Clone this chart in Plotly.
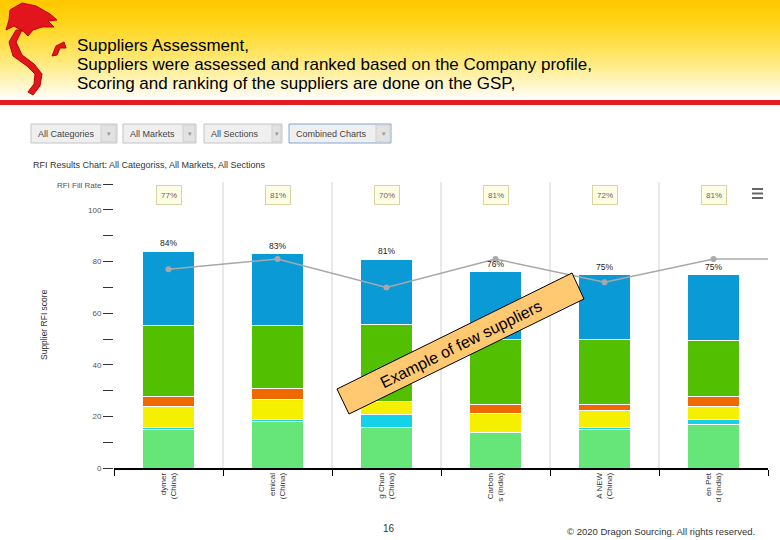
import plotly.graph_objects as go

# ---------------- data ----------------
suppliers = ["dymer<br>(China)", "emical<br>(China)", "g Chun<br>(China)",
             "Carbon<br>s (India)", "A NEW<br>(China)", "en Pet<br>d (India)"]
fill_rate = [77, 81, 70, 81, 72, 81]
score_light_green = [15.0, 17.9, 15.8, 13.8, 15.0, 16.9]
score_cyan = [0.6, 0.8, 5.1, 0.0, 0.6, 1.8]
score_yellow = [8.2, 8.0, 5.0, 7.2, 6.5, 5.1]
score_orange = [4.1, 4.2, 0.0, 3.8, 2.7, 4.1]
score_green = [27.5, 24.5, 29.9, 25.2, 25.1, 21.7]
score_blue = [28.6, 27.6, 25.2, 26.0, 25.1, 25.4]
ytick_vals = [0, 10, 20, 30, 40, 50, 60, 70, 80, 90, 100, 109.7]
ytick_text = ["0", "", "20", "", "40", "", "60", "", "80", "", "100", "RFI Fill Rate"]
filters = ["All Categories", "All Markets", "All Sections", "Combined Charts"]
header_lines = ["Suppliers Assessment,",
                "Suppliers were assessed and ranked based on the Company profile,",
                "Scoring and ranking of the suppliers are done on the GSP,"]

series = [
    ("Section 1", score_light_green, "#66e678"),
    ("Section 2", score_cyan, "#14d2ea"),
    ("Section 3", score_yellow, "#f4f000"),
    ("Section 4", score_orange, "#f06800"),
    ("Section 5", score_green, "#52c000"),
    ("Section 6", score_blue, "#0a9ad6"),
]
totals = [sum(v) for v in zip(*[s[1] for s in series])]

# ---------------- geometry helpers ----------------
W, H = 780, 540
L, R, T, B = 114, 12, 182, 72
FONT = "Liberation Sans, Arial, sans-serif"


def px(x):
    return (x - L) / (W - L - R)


def py(y):
    return (H - B - y) / (H - T - B)


fig = go.Figure()
for name, vals, col in series:
    fig.add_trace(go.Bar(x=suppliers, y=vals, name=name, width=0.48,
                         marker=dict(color=col, line=dict(color="white", width=1))))
fig.add_trace(go.Scatter(x=suppliers, y=fill_rate, mode="lines+markers", name="RFI Fill Rate",
                         line=dict(color="#a8a8a8", width=1.5),
                         marker=dict(color="#a8a8a8", size=6)))

shapes = []
# header gradient
N = 50
for i in range(N):
    t = (i + 0.5) / N
    g = int(200 + (255 - 200) * t)
    b = int(255 * t ** 1.5)
    shapes.append(dict(type="rect", xref="paper", yref="paper", layer="below",
                       x0=px(0), x1=px(W), y0=py(i * 2), y1=py(i * 2 + 2.3),
                       fillcolor=f"rgb(255,{g},{b})", line=dict(width=0)))
# red rule
shapes.append(dict(type="rect", xref="paper", yref="paper", x0=px(0), x1=px(W),
                   y0=py(100), y1=py(105), fillcolor="#e31b23", line=dict(width=0)))


def path(points, close=True):
    s = "M " + " L ".join(f"{px(x):.5f},{py(y):.5f}" for x, y in points)
    return s + (" Z" if close else "")


# crude dragon logo
shapes.append(dict(type="path", xref="paper", yref="paper",
                   path=path([(10, 10), (22, 3), (36, 6), (50, 14), (57, 20), (48, 21), (54, 27),
                              (42, 27), (33, 30), (28, 36), (24, 32), (14, 26), (6, 30), (9, 20)]),
                   fillcolor="#e2141c", line=dict(color="#c00000", width=1)))
shapes.append(dict(type="path", xref="paper", yref="paper",
                   path=path([(22, 30), (16, 42), (22, 55), (34, 64), (42, 74), (40, 86), (33, 95),
                              (28, 92), (34, 84), (35, 74), (27, 66), (13, 56), (9, 42), (16, 30)]),
                   fillcolor="#e2141c", line=dict(color="#c00000", width=1)))
shapes.append(dict(type="path", xref="paper", yref="paper",
                   path=path([(52, 56), (56, 46), (64, 42), (66, 48), (60, 48), (57, 55)]),
                   fillcolor="#e2141c", line=dict(color="#c00000", width=1)))

# filter buttons
btns = [(31, 117, 101), (123, 196, 183), (204, 282, 272), (289, 391, 376)]
for k, (x0, x1, sep) in enumerate(btns):
    border = "#7fa6d6" if k == 3 else "#c4c4c4"
    shapes.append(dict(type="rect", xref="paper", yref="paper", x0=px(x0), x1=px(x1),
                       y0=py(143), y1=py(124), fillcolor="#efefef", line=dict(color=border, width=1)))
    shapes.append(dict(type="rect", xref="paper", yref="paper", x0=px(sep), x1=px(x1 - 1),
                       y0=py(142), y1=py(125), fillcolor="#e2e2e2", line=dict(color="#cfcfcf", width=1)))

# category separators
for i in range(len(suppliers) - 1):
    shapes.append(dict(type="line", xref="x", yref="paper", x0=i + 0.5, x1=i + 0.5, y0=0, y1=1,
                       layer="below", line=dict(color="#d2d2d2", width=1)))
# fill rate line continues to the right edge
shapes.append(dict(type="line", xref="x", yref="y", x0=len(suppliers) - 1, x1=len(suppliers) - 0.5,
                   y0=fill_rate[-1], y1=fill_rate[-1], line=dict(color="#a8a8a8", width=1.5)))
# hamburger icon
for yy in (188, 192.5, 197):
    shapes.append(dict(type="rect", xref="paper", yref="paper", x0=px(752), x1=px(763),
                       y0=py(yy + 2), y1=py(yy), fillcolor="#666666", line=dict(width=0)))
# rotated call-out box
shapes.append(dict(type="path", xref="paper", yref="paper",
                   path=path([(337, 389), (572, 273), (584, 299), (349, 414)]),
                   fillcolor="#ffc972", line=dict(color="black", width=1)))

ann = []
for j, line in enumerate(header_lines):
    ann.append(dict(xref="paper", yref="paper", x=px(75), y=py(46 + 19 * j), xanchor="left",
                    yanchor="middle", showarrow=False, text=line,
                    font=dict(family=FONT, size=17, color="black")))
for k, (x0, x1, sep) in enumerate(btns):
    ann.append(dict(xref="paper", yref="paper", x=px(x0 + 5), y=py(133.5), xanchor="left",
                    yanchor="middle", showarrow=False, text=filters[k],
                    font=dict(family=FONT, size=9, color="#444")))
    ann.append(dict(xref="paper", yref="paper", x=px((sep + x1) / 2), y=py(133.5), xanchor="center",
                    yanchor="middle", showarrow=False, text="▾",
                    font=dict(family=FONT, size=7, color="#999")))
ann.append(dict(xref="paper", yref="paper", x=px(31), y=py(165), xanchor="left", yanchor="middle",
                showarrow=False, text="RFI Results Chart: All Categoriss, All Markets, All Sections",
                font=dict(family=FONT, size=9, color="#333")))
ann.append(dict(xref="paper", yref="paper", x=px(44), y=py(325), textangle=-90, showarrow=False,
                xanchor="center", yanchor="middle", text="Supplier RFI score",
                font=dict(family=FONT, size=8.5, color="#333")))
for i, s in enumerate(suppliers):
    ann.append(dict(xref="x", yref="paper", x=i, y=py(195), yanchor="middle", showarrow=False,
                    text=f"{fill_rate[i]}%", width=18, height=12, borderpad=3,
                    bgcolor="#fdfde4", bordercolor="#d8d4a4", borderwidth=1,
                    font=dict(family=FONT, size=8, color="#666")))
    ann.append(dict(xref="x", yref="y", x=i, y=totals[i], yanchor="bottom", yshift=1, showarrow=False,
                    text=f"{round(totals[i])}%", font=dict(family=FONT, size=8.5, color="#222")))
ann.append(dict(xref="paper", yref="paper", x=px(460.5), y=py(344), textangle=-26.3, showarrow=False,
                xanchor="center", yanchor="middle", text="Example of few suppliers",
                font=dict(family=FONT, size=16, color="black")))
ann.append(dict(xref="paper", yref="paper", x=px(389), y=py(528), xanchor="center", yanchor="middle",
                showarrow=False, text="16", font=dict(family=FONT, size=10, color="#333")))
ann.append(dict(xref="paper", yref="paper", x=px(757), y=py(531), xanchor="right", yanchor="middle",
                showarrow=False, text="© 2020 Dragon Sourcing. All rights reserved.",
                font=dict(family=FONT, size=9.5, color="#333")))

fig.update_layout(
    width=W, height=H, margin=dict(l=L, r=R, t=T, b=B),
    paper_bgcolor="white", plot_bgcolor="white",
    barmode="stack", showlegend=False, bargap=0.52,
    font=dict(family=FONT),
    shapes=shapes, annotations=ann,
    xaxis=dict(type="category", range=[-0.5, len(suppliers) - 0.5], showgrid=False,
               showline=True, linecolor="black", linewidth=1.5, tickson="boundaries",
               ticks="outside", ticklen=6, tickcolor="black", tickangle=-90,
               tickfont=dict(family=FONT, size=8, color="#333"), zeroline=False),
    yaxis=dict(range=[0, 110.85], tickmode="array", tickvals=ytick_vals, ticktext=ytick_text,
               showgrid=False, zeroline=False, showline=False, ticks="outside", ticklen=10,
               tickcolor="#333", tickfont=dict(family=FONT, size=8, color="#555")),
)

fig.write_html("out.html", config={"displayModeBar": False},
               post_script="document.body.style.margin='0';")
